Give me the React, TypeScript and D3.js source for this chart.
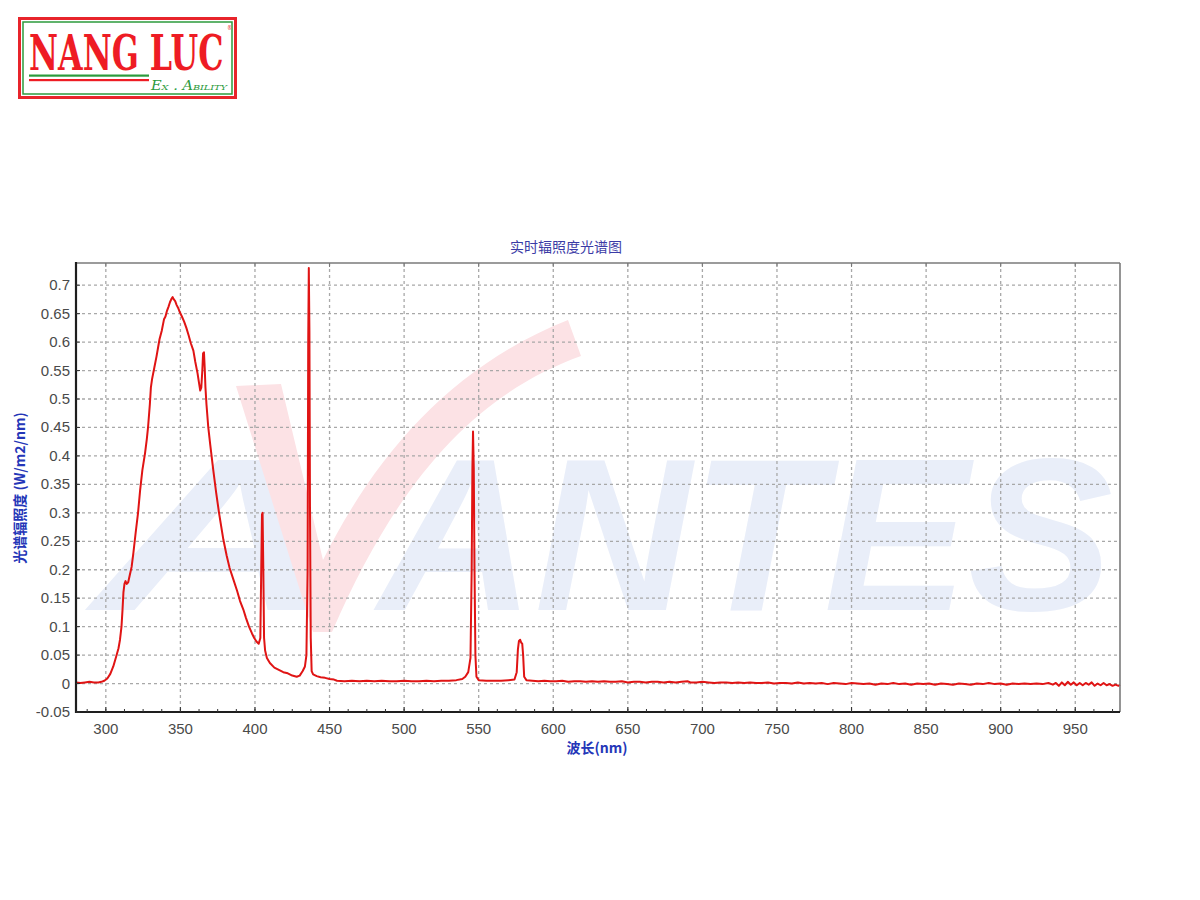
import React from "react";
import * as d3 from "d3";

// ---------- data ----------
const wavelengths: number[] = [
  280, 283, 286, 289, 292, 295, 297, 299, 301, 303, 305, 307, 308.5, 309.5, 310.5, 311.2, 311.8, 312.5, 313.2, 314,
  315, 316, 317.3, 318.5, 320, 321.6, 323, 324.5, 326.3, 327.5, 328.3, 329.5, 330.2, 331, 332.5, 334, 335, 336, 337.5,
  339, 340, 341, 342, 343, 344, 344.8, 345.6, 346.5, 347.5, 348.5, 349.7, 351, 352.5, 354, 355.5, 357, 358.7, 360,
  361.5, 362.5, 363.3, 364, 364.7, 365.2, 365.8, 366.3, 366.8, 367.5, 368.7, 370, 372, 374, 376, 378.8, 381, 383,
  385.5, 388, 390, 392.2, 394, 396, 398, 399.5, 401, 402.5, 403.6, 404.2, 404.7, 405.1, 405.6, 406.1, 406.8, 408, 410,
  413, 416, 419, 422, 425, 428, 430, 432, 433.5, 434.5, 435.3, 435.7, 436.1, 436.5, 436.9, 437.4, 438, 439, 441.4,
  444, 447, 450, 453, 455, 460, 465, 470, 475, 480, 485, 490, 495, 500, 505, 510, 515, 520, 525, 530, 535, 539, 541,
  543, 544.5, 545.3, 545.8, 546.2, 546.7, 547.2, 547.8, 548.5, 550, 555, 560, 565, 570, 574, 575.5, 576.3, 577, 577.8,
  578.5, 579.2, 579.8, 580.5, 582, 586, 590, 594, 598, 602, 606, 610, 614, 618, 622, 626, 630, 634, 638, 642, 646,
  650, 654, 658, 662, 666, 670, 674, 678, 682, 686, 690, 692, 696, 700, 704, 708, 712, 716, 720, 724, 728, 732, 736,
  740, 744, 748, 752, 756, 760, 764, 768, 772, 776, 780, 784, 788, 792, 796, 800, 804, 808, 812, 816, 820, 824, 828,
  832, 836, 840, 844, 848, 852, 856, 860, 864, 868, 872, 876, 880, 884, 888, 892, 896, 900, 904, 908, 912, 916, 920,
  924, 928, 932, 935, 937, 939, 941, 943, 945, 947, 949, 951, 953, 955, 957, 959, 961, 963, 965, 967, 969, 971, 973,
  975, 977, 979, 980,
];

const irradiance: number[] = [
  0.002, 0.001, 0.002, 0.003, 0.002, 0.002, 0.003, 0.005, 0.009, 0.017, 0.03, 0.048, 0.062, 0.077, 0.1, 0.13, 0.16, 0.175, 0.18, 0.175,
  0.178, 0.19, 0.205, 0.23, 0.265, 0.3, 0.34, 0.375, 0.405, 0.43, 0.45, 0.49, 0.52, 0.535, 0.555, 0.575, 0.59, 0.605, 0.62,
  0.64, 0.645, 0.655, 0.662, 0.67, 0.676, 0.679, 0.675, 0.672, 0.665, 0.66, 0.652, 0.645, 0.636, 0.625, 0.612, 0.598, 0.585, 0.565,
  0.545, 0.528, 0.515, 0.52, 0.55, 0.58, 0.582, 0.555, 0.52, 0.49, 0.45, 0.42, 0.376, 0.335, 0.298, 0.253, 0.225, 0.203,
  0.183, 0.163, 0.145, 0.13, 0.115, 0.1, 0.088, 0.08, 0.074, 0.07, 0.08, 0.2, 0.297, 0.3, 0.2, 0.08, 0.058, 0.045, 0.036,
  0.028, 0.024, 0.02, 0.018, 0.014, 0.012, 0.014, 0.022, 0.03, 0.05, 0.2, 0.6, 0.73, 0.62, 0.3, 0.08, 0.022, 0.016, 0.013,
  0.011, 0.01, 0.008, 0.007, 0.005, 0.004, 0.005, 0.004, 0.005, 0.004, 0.005, 0.004, 0.004, 0.005, 0.004, 0.004, 0.005, 0.004, 0.005, 0.005, 0.006, 0.008, 0.012,
  0.02, 0.045, 0.2, 0.38, 0.443, 0.38, 0.2, 0.05, 0.012, 0.006, 0.005, 0.005, 0.005, 0.006, 0.007, 0.02, 0.06, 0.075, 0.077,
  0.072, 0.07, 0.05, 0.012, 0.006, 0.005, 0.004, 0.005, 0.004, 0.004, 0.005, 0.003, 0.004, 0.004, 0.003, 0.004, 0.003, 0.004, 0.003, 0.003, 0.004,
  0.002, 0.003, 0.003, 0.002, 0.003, 0.003, 0.002, 0.003, 0.002, 0.003, 0.004, 0.002, 0.002, 0.003, 0.002, 0.001, 0.002, 0.002, 0.001, 0.002, 0.001, 0.002, 0.001,
  0.001, 0.002, 0.0, 0.001, 0.001, 0.0, 0.002, 0.0, 0.001, 0.0, 0.001, -0.001, 0.001, 0.0, -0.001, 0.001, 0.0, -0.001, 0.0, -0.002, 0.0, -0.001, 0.001,
  -0.001, 0.0, -0.002, 0.0, -0.001, 0.0, -0.002, 0.0, -0.001, -0.002, 0.0, -0.001, -0.002, 0.0, -0.001, 0.001, -0.001, 0.0, -0.002, 0.0, -0.001, 0.0, -0.001,
  0.0, -0.001, 0.001, -0.002, 0.001, -0.004, 0.002, -0.003, 0.003, -0.002, 0.002, -0.003, 0.001, -0.003, 0.001, -0.002, 0.002, -0.004, 0.0, -0.003, 0.001, -0.003, -0.001,
  -0.004, -0.002, -0.004, -0.002,
];

const xTicks: number[] = [300, 350, 400, 450, 500, 550, 600, 650, 700, 750, 800, 850, 900, 950];
const yTicks: number[] = [-0.05, 0, 0.05, 0.1, 0.15, 0.2, 0.25, 0.3, 0.35, 0.4, 0.45, 0.5, 0.55, 0.6, 0.65, 0.7];
const yTickLabels: string[] = ["-0.05", "0", "0.05", "0.1", "0.15", "0.2", "0.25", "0.3", "0.35", "0.4", "0.45", "0.5", "0.55", "0.6", "0.65", "0.7"];

const titleText = "实时辐照度光谱图";
const xLabelText = "波长(nm)";
const yLabelText = "光谱辐照度 (W/m2/nm)";

// ---------- layout ----------
const L = 76, R = 1120, T = 263, B = 712;

export default function App() {
  const x = d3.scaleLinear().domain([280, 980]).range([L, R]);
  const y = d3.scaleLinear().domain([-0.05, 0.739]).range([B, T]);

  const pts: [number, number][] = wavelengths.map((w, i) => [w, irradiance[i]]);
  const line = d3
    .line<[number, number]>()
    .x((d) => x(d[0]))
    .y((d) => y(d[1]));

  const minorX = d3.range(287.5, 980, 12.5);

  const font = "'Liberation Sans', Arial, 'Noto Sans CJK SC', sans-serif";
  const cjk = "'Noto Sans CJK SC', 'Liberation Sans', sans-serif";

  const swoosh =
    "M 236 386 L 281 384 L 323 560 C 378 450, 455 365, 568 320 L 581 356 C 482 392, 402 470, 332 632 L 313 632 Z";

  return (
    <svg
      width={1200}
      height={900}
      style={{ position: "absolute", left: 0, top: 0, background: "#fff" }}
    >
      <rect x={0} y={0} width={1200} height={900} fill="#fff" />

      {/* logo */}
      <g>
        <rect x={19.5} y={18.5} width={216} height={79} fill="#fff" stroke="#e8242b" strokeWidth={3} />
        <rect x={23} y={22} width={209} height={72} fill="none" stroke="#2c9b3c" strokeWidth={1.5} />
        <text
          x={29}
          y={69.5}
          fontFamily="'DejaVu Serif', serif"
          fontWeight="bold"
          fill="#ee1c24"
          textLength={203}
          lengthAdjust="spacingAndGlyphs"
        >
          <tspan fontSize={48}>NANG LUC</tspan>
          <tspan fontSize={7} dx={6} dy={-40} fontWeight="normal">®</tspan>
        </text>
        <rect x={29} y={74.5} width={120} height={2.2} fill="#2c9b3c" />
        <rect x={29} y={79} width={120} height={2.2} fill="#ee1c24" />
        <text
          x={151}
          y={89.5}
          fontFamily="'DejaVu Serif', serif"
          fontStyle="italic"
          fontSize={12}
          fontVariant="small-caps"
          fill="#2c9b3c"
          textLength={76}
          lengthAdjust="spacingAndGlyphs"
        >
          Ex . Ability
        </text>
      </g>

      {/* watermark */}
      <g>
        <text
          x={92}
          y={610}
          fontFamily="'Liberation Sans', Arial, sans-serif"
          fontWeight="bold"
          fontStyle="italic"
          fontSize={218}
          fill="#e9eef9"
          textLength={250}
          lengthAdjust="spacingAndGlyphs"
        >
          A
        </text>
        <path d={swoosh} fill="#fce2e5" />
        <text
          x={378}
          y={610}
          fontFamily="'Liberation Sans', Arial, sans-serif"
          fontWeight="bold"
          fontStyle="italic"
          fontSize={218}
          fill="#e9eef9"
          textLength={735}
          lengthAdjust="spacingAndGlyphs"
        >
          ANTES
        </text>
      </g>

      {/* grid */}
      <g stroke="#a8a8a8" strokeWidth={1.3} strokeDasharray="3,3">
        {xTicks.map((t) => (
          <line key={"gx" + t} x1={x(t)} x2={x(t)} y1={T} y2={B} />
        ))}
        {yTicks.map((t) => (
          <line key={"gy" + t} x1={L} x2={R} y1={y(t)} y2={y(t)} />
        ))}
      </g>

      {/* spectrum */}
      <path d={line(pts) || ""} fill="none" stroke="#e01414" strokeWidth={2} strokeLinejoin="round" />

      {/* frame */}
      <line x1={L} x2={R} y1={T} y2={T} stroke="#7a7a7a" strokeWidth={1.6} />
      <line x1={R} x2={R} y1={T} y2={B} stroke="#7a7a7a" strokeWidth={1.6} />
      <line x1={L} x2={L} y1={T - 1} y2={B + 1} stroke="#1e1e1e" strokeWidth={2.2} />
      <line x1={L - 1} x2={R} y1={B} y2={B} stroke="#1e1e1e" strokeWidth={2.2} />

      {/* ticks */}
      <g stroke="#333" strokeWidth={1}>
        {xTicks.map((t) => (
          <line key={"tb" + t} x1={x(t)} x2={x(t)} y1={B} y2={B - 5} />
        ))}
        {minorX.map((t) => (
          <line key={"mb" + t} x1={x(t)} x2={x(t)} y1={B} y2={B - 3} />
        ))}
        {xTicks.map((t) => (
          <line key={"tt" + t} x1={x(t)} x2={x(t)} y1={T} y2={T + 4} stroke="#777" />
        ))}
        {yTicks.map((t) => (
          <line key={"tl" + t} x1={L} x2={L + 4} y1={y(t)} y2={y(t)} />
        ))}
      </g>

      {/* tick labels */}
      <g fontFamily={font} fontSize={15} fill="#4a4a4a">
        {xTicks.map((t) => (
          <text key={"lx" + t} x={x(t)} y={734} textAnchor="middle">
            {t}
          </text>
        ))}
        {yTicks.map((t, i) => (
          <text key={"ly" + t} x={70} y={y(t) + 5} textAnchor="end">
            {yTickLabels[i]}
          </text>
        ))}
      </g>

      {/* titles */}
      <text x={566} y={252} textAnchor="middle" fontFamily={cjk} fontSize={14} fill="#3b3ba6">
        {titleText}
      </text>
      <text x={597} y={753} textAnchor="middle" fontFamily={cjk} fontSize={14} fontWeight="bold" fill="#2436b8">
        {xLabelText}
      </text>
      <text
        transform="translate(25,488) rotate(-90)"
        textAnchor="middle"
        fontFamily={cjk}
        fontSize={14}
        fontWeight="bold"
        fill="#2436b8"
      >
        {yLabelText}
      </text>
    </svg>
  );
}
